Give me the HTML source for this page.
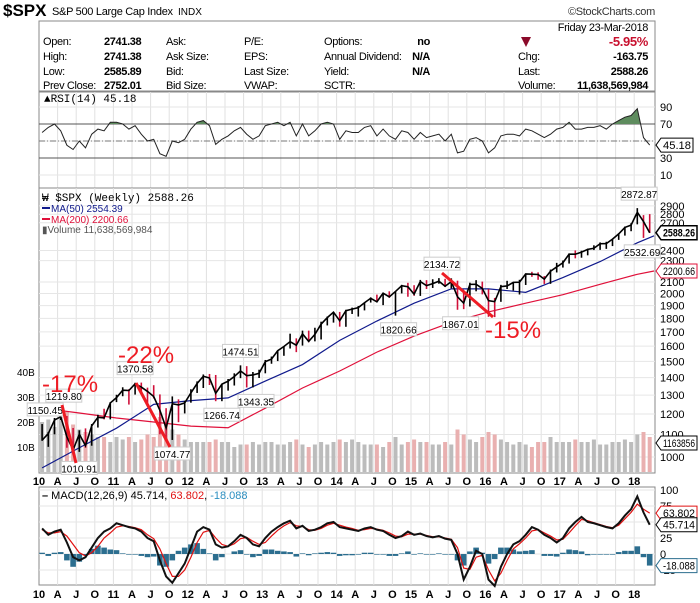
<!DOCTYPE html>
<html><head><meta charset="utf-8"><style>
body{margin:0;background:#fff;}
svg{display:block;font-family:"Liberation Sans",sans-serif;}
</style></head><body>
<svg id="c" width="700" height="603" viewBox="0 0 700 603">
<rect x="0" y="0" width="700" height="603" fill="#fff"/>
<g>
<text x="3" y="16" font-size="17" font-weight="bold">$SPX</text>
<text x="52" y="15" font-size="11" letter-spacing="-0.3">S&amp;P 500 Large Cap Index</text>
<text x="178" y="15" font-size="10">INDX</text>
<text x="655" y="15" font-size="11" text-anchor="end" fill="#333" letter-spacing="-0.3">©StockCharts.com</text>
</g>
<rect x="39" y="21" width="616" height="70" fill="#fff" stroke="#888"/>
<g font-size="11" letter-spacing="-0.35">
<text x="648" y="31" text-anchor="end">Friday  23-Mar-2018</text>
<text x="43" y="45">Open:</text><text x="104" y="45" font-weight="bold">2741.38</text>
<text x="43" y="60">High:</text><text x="104" y="60" font-weight="bold">2741.38</text>
<text x="43" y="75">Low:</text><text x="104" y="75" font-weight="bold">2585.89</text>
<text x="43" y="89">Prev Close:</text><text x="104" y="89" font-weight="bold">2752.01</text>
<text x="166" y="45">Ask:</text><text x="166" y="60">Ask Size:</text><text x="166" y="75">Bid:</text><text x="166" y="89">Bid Size:</text>
<text x="244" y="45">P/E:</text><text x="244" y="60">EPS:</text><text x="244" y="75">Last Size:</text><text x="244" y="89">VWAP:</text>
<text x="324" y="45">Options:</text><text x="324" y="60">Annual Dividend:</text><text x="324" y="75">Yield:</text><text x="324" y="89">SCTR:</text>
<text x="430" y="45" font-weight="bold" text-anchor="end">no</text><text x="430" y="60" font-weight="bold" text-anchor="end">N/A</text><text x="430" y="75" font-weight="bold" text-anchor="end">N/A</text>
<polygon points="521,37 531,37 526,47" fill="#8b0a2a"/>
<text x="648" y="46" text-anchor="end" font-weight="bold" font-size="13" fill="#c8102e">-5.95%</text>
<text x="518" y="60">Chg:</text><text x="648" y="60" font-weight="bold" text-anchor="end">-163.75</text>
<text x="518" y="75">Last:</text><text x="648" y="75" font-weight="bold" text-anchor="end">2588.26</text>
<text x="518" y="89">Volume:</text><text x="648" y="89" font-weight="bold" text-anchor="end">11,638,569,984</text>
</g>
<g id="rsi"></g>
<g id="price"></g>
<g id="macd"></g>
</svg>
<script>
const priceClose=[1073.87,1104.49,1169.43,1186.69,1089.41,1030.71,1101.60,1049.33,1141.20,1183.26,1180.55,1257.64,
1286.12,1327.22,1325.83,1363.61,1345.20,1320.64,1292.28,1218.89,1131.42,1253.30,1246.96,1257.60,
1312.41,1365.68,1408.47,1397.91,1310.33,1362.16,1379.32,1406.58,1440.67,1412.16,1416.18,1426.19,
1498.11,1514.68,1569.19,1597.57,1630.74,1606.28,1685.73,1632.97,1681.55,1756.54,1805.81,1848.36,
1782.59,1859.45,1872.34,1883.95,1923.57,1960.23,1930.67,2003.37,1972.29,2018.05,2067.56,2058.90,
1994.99,2104.50,2067.89,2085.51,2107.39,2063.11,2103.84,1972.18,1920.03,2079.36,2080.41,2043.94,
1940.24,1932.23,2059.74,2065.30,2096.95,2098.86,2173.60,2170.95,2168.27,2126.15,2198.81,2238.83,
2278.87,2363.64,2362.72,2384.20,2411.80,2423.41,2470.30,2471.65,2519.36,2575.26,2647.58,2673.61,
2823.81,2713.83,2588.26];
const priceLow=[1071,1044,1101,1170,1040,1011,1022,1040,1049,1133,1173,1173,
1262,1294,1249,1303,1311,1258,1282,1101,1075,1075,1159,1203,
1259,1312,1340,1357,1267,1267,1325,1354,1397,1343,1343,1398,
1426,1485,1502,1536,1584,1560,1604,1627,1633,1646,1747,1768,
1738,1737,1834,1814,1862,1925,1930,1904,1964,1821,2001,1973,
1981,1980,2039,2048,2085,2056,2044,1867,1872,1893,2019,1993,
1812,1810,1931,2039,2025,1992,2074,2147,2120,2083,2084,2187,
2233,2271,2322,2328,2352,2405,2407,2417,2446,2511,2557,2605,
2682,2532,2585];
const priceHigh=[1150,1112,1180,1219,1190,1131,1120,1129,1150,1196,1227,1262,
1302,1344,1333,1370,1371,1342,1356,1304,1230,1293,1277,1269,
1333,1378,1419,1422,1416,1363,1392,1426,1475,1470,1434,1448,
1509,1531,1570,1597,1687,1654,1709,1709,1730,1775,1814,1849,
1850,1867,1884,1897,1924,1968,1991,2005,2019,2019,2075,2093,
2072,2119,2117,2125,2135,2129,2133,2112,2021,2094,2117,2104,
2038,1963,2075,2111,2102,2120,2178,2193,2188,2154,2214,2278,
2300,2371,2401,2398,2419,2454,2484,2491,2519,2582,2657,2695,
2872.87,2789,2801];
const ma50=[955,1040,1130,1250,1270,1285,1380,1480,1640,1780,1920,2040,2040,2010,2140,2290,2480,2554.39];
const ma200=[1230,1205,1180,1160,1140,1132,1230,1340,1440,1560,1670,1770,1850,1920,1990,2080,2170,2200.66];
const maTimes=[0,6,12,18,24,30,36,42,48,54,60,66,72,78,84,90,96,98.7];
const volume=[20,21,18,22,24,19,17,16,15,14,14,12,14,13,14,12,13,15,14,22,20,17,15,13,12,12,12,12,13,12,12,10,11,11,12,11,12,12,11,11,12,13,11,10,11,12,11,12,13,12,13,12,11,11,11,10,12,14,11,12,13,12,12,11,11,12,11,17,15,13,12,14,16,15,13,12,11,12,11,10,12,12,14,12,12,12,13,12,12,13,11,11,12,12,13,12,15,16,14];
const rsi=[60,66,70,62,45,40,50,42,58,64,62,72,72,70,64,68,58,50,52,35,32,50,48,52,64,72,74,68,46,52,56,62,66,58,52,56,68,70,72,68,72,56,70,56,62,70,72,70,52,62,60,60,66,68,56,64,56,52,62,60,52,60,54,56,58,50,58,36,38,52,54,50,36,42,56,58,58,56,64,62,58,54,58,64,66,72,64,64,66,66,68,64,70,74,78,80,88,54,45.18];
const macdLine=[40,30,35,38,18,-5,-10,-5,10,25,35,40,48,45,42,40,35,25,20,-10,-35,-45,-30,-15,10,35,42,38,15,10,12,20,30,25,15,12,25,35,42,48,52,40,44,36,38,42,48,50,42,40,38,36,40,42,38,36,30,25,28,35,30,32,28,26,28,24,22,0,-40,-20,5,0,-40,-50,-20,0,15,20,30,42,38,30,25,18,25,40,50,58,50,48,45,42,40,48,60,70,90,65,45.714];
const signalLine=[38,33,33,35,28,15,2,-3,2,12,25,33,42,44,43,41,38,30,24,8,-15,-35,-35,-25,-5,18,34,37,25,15,12,16,24,26,20,15,18,28,37,44,49,44,43,38,37,40,45,48,45,42,40,37,38,40,39,37,33,28,27,31,31,31,29,27,27,25,23,10,-22,-24,-5,-2,-25,-42,-30,-10,8,16,25,36,38,33,28,22,23,33,44,54,52,49,46,43,41,45,55,65,78,70,63.802];
const quarterLabels=['10','A','J','O','11','A','J','O','12','A','J','O','13','A','J','O','14','A','J','O','15','A','J','O','16','A','J','O','17','A','J','O','18'];
const priceTicks=[1000,1100,1200,1300,1400,1500,1600,1700,1800,1900,2000,2100,2300,2400,2700,2800,2900];
const volTicks=[10,20,30,40];
const rsiTicks=[90,70,30,10];
const macdTicks=[100,75,25,0,-25];
const annoLabels=['1150.45','1219.80','1010.91','1370.58','1074.77','1266.74','1474.51','1343.35','1820.66','2134.72','1867.01','2872.87','2532.69'];
const annoMonth=[0.5,3.5,6,15,21,29,32,34.5,57.5,64.5,67.5,96.3,96.8];
const annoAbove=[1,1,0,1,0,0,1,0,0,1,0,1,0];

const NS='http://www.w3.org/2000/svg';
const L=39,R=655;
function mk(p,t,a){const e=document.createElementNS(NS,t);for(const k in a)e.setAttribute(k,a[k]);p.appendChild(e);return e;}
const xM=m=>L+(m+0.5)*6.2;
const xQ=q=>L+q*3*6.2;
const yP=p=>457-543*Math.log10(p/1000);
const yV=v=>472-2.5*v;
const yR=v=>141-0.85*(v-50);
const yM=v=>554-0.64*v;

function panel(g,top,bot,hticks,hfun){
  mk(g,'rect',{x:L,y:top,width:R-L,height:bot-top,fill:'#fff',stroke:'#888'});
  quarterLabels.forEach((s,i)=>{const x=xQ(i);if(x>L&&x<R)mk(g,'line',{x1:x,x2:x,y1:top,y2:bot,stroke:'#e0e0e0'});});
  hticks.forEach(v=>{const y=hfun(v);mk(g,'line',{x1:L,x2:R,y1:y,y2:y,stroke:'#e6e6e6'});});
}
function axisText(g,y,name){
  const ax=mk(g,'g',{});
  
  
  quarterLabels.forEach((s,i)=>{const t=mk(ax,'text',{x:xQ(i),y:y,'font-size':11,'font-weight':'bold','text-anchor':'middle'});t.textContent=s;});
}
function tag(g,y,txt,col,bold,name){
  const t=mk(g,'g',{});
  
  
  const w=Math.min(txt.length*5.6+4,700-R-9);
  mk(t,'polygon',{points:`${R+1},${y} ${R+6},${y-7} ${R+6+w},${y-7} ${R+6+w},${y+7} ${R+6},${y+7}`,fill:'#fff',stroke:col,'stroke-width':bold?1.5:1});
  const e=mk(t,'text',{x:R+8,y:y+4,'font-size':11,'font-weight':bold?'bold':'normal',textLength:w-4,lengthAdjust:'spacingAndGlyphs'});e.textContent=txt;
}

// RSI
const rg=document.getElementById('rsi');
panel(rg,92,188,[90,70,50,30,10],yR);
mk(rg,'line',{x1:L,x2:R,y1:yR(70),y2:yR(70),stroke:'#555'});
mk(rg,'line',{x1:L,x2:R,y1:yR(30),y2:yR(30),stroke:'#555'});
mk(rg,'line',{x1:L,x2:R,y1:yR(50),y2:yR(50),stroke:'#777','stroke-dasharray':'6,2,1,2'});
const cp=mk(rg,'clipPath',{id:'above70'});mk(cp,'rect',{x:L,y:92,width:R-L,height:yR(70)-92});
const rpts=rsi.map((v,i)=>xM(i)+','+yR(v)).join(' ');
const rarea=mk(rg,'polygon',{points:xM(0)+','+yR(70)+' '+rpts+' '+xM(rsi.length-1)+','+yR(70),fill:'#5e8c5e','clip-path':'url(#above70)'});


const rl=mk(rg,'polyline',{points:rpts,fill:'none',stroke:'#222','stroke-width':1});


rsiTicks.forEach(v=>{const t=mk(rg,'text',{x:660,y:yR(v)+4,'font-size':11});t.textContent=v;});
tag(rg,yR(45.18),'45.18','#000',false,'rsi-value-tag');
{const t=mk(rg,'text',{x:44,y:102,'font-size':11,'font-family':'Liberation Mono'});t.textContent='▲RSI(14) 45.18';}

// Price
const pg=document.getElementById('price');
panel(pg,188,473,priceTicks,yP);
volume.forEach((v,i)=>{
  const up=i===0||priceClose[i]>=priceClose[i-1];
  const b=mk(pg,'rect',{x:xM(i)-2,y:yV(v),width:4,height:472-yV(v),fill:up?'#bcbcbc':'#e9b0b0'});
  
  
});
const m200=mk(pg,'polyline',{points:ma200.map((v,i)=>xM(maTimes[i])+','+yP(v)).join(' '),fill:'none',stroke:'#e0103a','stroke-width':1.2});


const m50=mk(pg,'polyline',{points:ma50.map((v,i)=>xM(maTimes[i])+','+yP(v)).join(' '),fill:'none',stroke:'#101a8c','stroke-width':1.2});


priceClose.forEach((c,i)=>{
  const red=i>0&&c<priceClose[i-1];
  const x=xM(i);
  const b=mk(pg,'line',{x1:x,x2:x,y1:yP(priceHigh[i]),y2:yP(priceLow[i]),stroke:red?'#d0103a':'#000','stroke-width':1.6});
  
  
});
const pl=mk(pg,'polyline',{points:priceClose.map((v,i)=>xM(i)+','+yP(v)).join(' '),fill:'none',stroke:'#000','stroke-width':1.6});


priceTicks.forEach(v=>{const t=mk(pg,'text',{x:660,y:yP(v)+4,'font-size':11});t.textContent=v;});
volTicks.forEach(v=>{const t=mk(pg,'text',{x:17,y:yV(v)+4,'font-size':10});t.textContent=v+'B';});
annoLabels.forEach((s,i)=>{
  const x=xM(annoMonth[i]);const p=parseFloat(s);const y=yP(p)+(annoAbove[i]?-14:14);
  const g=mk(pg,'g',{});
  
  
  mk(g,'rect',{x:x-18,y:y-7,width:36,height:13,fill:'#fff',stroke:'#ccc'});
  const t=mk(g,'text',{x:x,y:y+4,'font-size':10,'text-anchor':'middle'});t.textContent=s;
});
tag(pg,yP(2588.26),'2588.26','#000',true,'last-price-tag');
tag(pg,yP(2200.66),'2200.66','#e0103a',false,'ma200-tag');
tag(pg,443,'1163856','#000',false,'volume-tag');
[[62,405,76,463],[136,383,170,447],[442,273,493,317]].forEach((l,i)=>{
  const e=mk(pg,'line',{x1:l[0],y1:l[1],x2:l[2],y2:l[3],stroke:'#ee1c24','stroke-width':3});
  
  
});
[['-17%',42,392],['-22%',118,363],['-15%',485,338]].forEach(a=>{
  const t=mk(pg,'text',{x:a[1],y:a[2],'font-size':24,fill:'#ee1c24'});t.textContent=a[0];
  
  
});
{const lg=mk(pg,'g',{'font-size':10});


let t=mk(lg,'text',{x:42,y:201,'font-size':11,'font-family':'Liberation Mono'});t.textContent='₩ $SPX (Weekly) 2588.26';
mk(lg,'line',{x1:42,x2:50,y1:208,y2:208,stroke:'#101a8c','stroke-width':2});
t=mk(lg,'text',{x:51,y:212,fill:'#101a8c'});t.textContent='MA(50) 2554.39';
mk(lg,'line',{x1:42,x2:50,y1:219,y2:219,stroke:'#e0103a','stroke-width':2});
t=mk(lg,'text',{x:51,y:223,fill:'#e0103a'});t.textContent='MA(200) 2200.66';
t=mk(lg,'text',{x:42,y:233,fill:'#555'});t.textContent='▮Volume 11,638,569,984';}
axisText(document.getElementById('c'),485,'x-axis-top');

// MACD
const mg=document.getElementById('macd');
panel(mg,487,585,[100,75,50,25,0,-25],yM);
macdLine.forEach((v,i)=>{
  const h=v-signalLine[i];const y0=yM(0),y1=yM(h);
  const b=mk(mg,'rect',{x:xM(i)-2.8,y:Math.min(y0,y1),width:5.6,height:Math.abs(y1-y0),fill:'#2c6e8f'});
  
  
});
const sl=mk(mg,'polyline',{points:signalLine.map((v,i)=>xM(i)+','+yM(v)).join(' '),fill:'none',stroke:'#e01010','stroke-width':1.2});


const ml=mk(mg,'polyline',{points:macdLine.map((v,i)=>xM(i)+','+yM(v)).join(' '),fill:'none',stroke:'#111','stroke-width':2});


macdTicks.forEach(v=>{const t=mk(mg,'text',{x:660,y:yM(v)+4,'font-size':11});t.textContent=v;});
tag(mg,yM(63.802),'63.802','#e01010',false,'macd-signal-tag');
tag(mg,yM(45.714),'45.714','#000',false,'macd-value-tag');
tag(mg,yM(-18.088),'-18.088','#2c6e8f',false,'macd-hist-tag');
{const t=mk(mg,'text',{x:42,y:499,'font-size':11});


t.innerHTML='<tspan font-weight="bold">–</tspan> MACD(12,26,9) 45.714, <tspan fill="#e01010">63.802</tspan>, <tspan fill="#2c8fc0">-18.088</tspan>';}
axisText(document.getElementById('c'),598,'x-axis-bottom');
</script>
</body></html>
